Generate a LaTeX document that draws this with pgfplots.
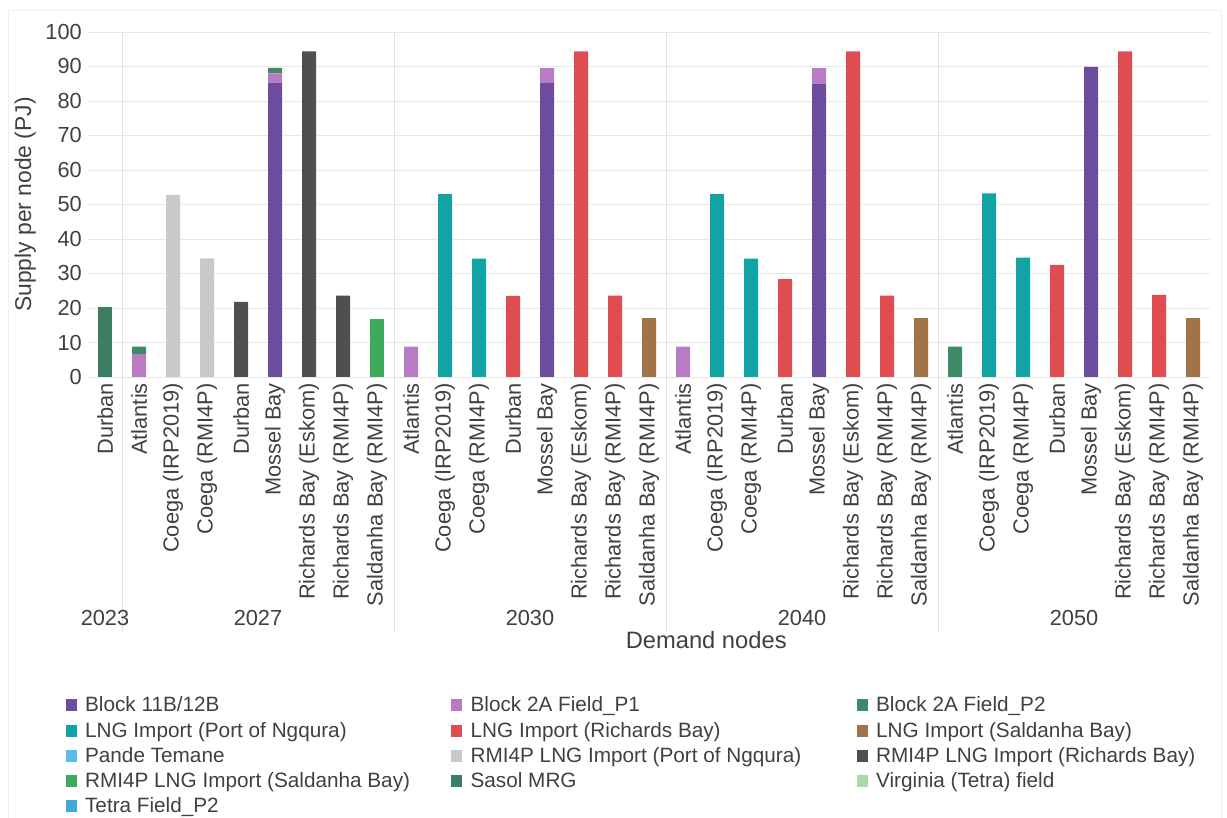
\documentclass[border=0pt]{standalone}
\usepackage{fontspec}
\setmainfont{Liberation Sans}
\usepackage{pgfplots}
\usepackage{pgfplotstable}
\pgfplotsset{compat=1.18}
\definecolor{cB}{HTML}{6B4C9E}
\definecolor{cP1}{HTML}{B77CC4}
\definecolor{cP2}{HTML}{3D8A67}
\definecolor{cLN}{HTML}{12A3A6}
\definecolor{cLR}{HTML}{E04D50}
\definecolor{cLS}{HTML}{A07448}
\definecolor{cPT}{HTML}{5BBCEB}
\definecolor{cRN}{HTML}{C9C9CD}
\definecolor{cRR}{HTML}{4F4F4F}
\definecolor{cRS}{HTML}{3FA95C}
\definecolor{cSM}{HTML}{3B7E63}
\definecolor{cVT}{HTML}{A9DBA9}
\definecolor{cTP}{HTML}{40A9D6}
\definecolor{txt}{HTML}{404040}

\pgfplotstableread{
x  B11  P1  P2  LN   LR   LS  PT  RN   RR   RS  SM   VT  TP
0  0    0   0   0    0    0   0   0    0    0   20.3 0   0
1  0    6.6 2.2 0    0    0   0   0    0    0   0    0   0
2  0    0   0   0    0    0   0   52.8 0    0   0    0   0
3  0    0   0   0    0    0   0   34.4 0    0   0    0   0
4  0    0   0   0    0    0   0   0    21.8 0   0    0   0
5  85.3 2.7 1.6 0    0    0   0   0    0    0   0    0   0
6  0    0   0   0    0    0   0   0    94.4 0   0    0   0
7  0    0   0   0    0    0   0   0    23.6 0   0    0   0
8  0    0   0   0    0    0   0   0    0    16.9 0   0   0
9  0    8.8 0   0    0    0   0   0    0    0   0    0   0
10 0    0   0   53.0 0    0   0   0    0    0   0    0   0
11 0    0   0   34.3 0    0   0   0    0    0   0    0   0
12 0    0   0   0    23.5 0   0   0    0    0   0    0   0
13 85.2 4.3 0   0    0    0   0   0    0    0   0    0   0
14 0    0   0   0    94.4 0   0   0    0    0   0    0   0
15 0    0   0   0    23.6 0   0   0    0    0   0    0   0
16 0    0   0   0    0    17.1 0  0    0    0   0    0   0
17 0    8.8 0   0    0    0   0   0    0    0   0    0   0
18 0    0   0   53.0 0    0   0   0    0    0   0    0   0
19 0    0   0   34.3 0    0   0   0    0    0   0    0   0
20 0    0   0   0    28.4 0   0   0    0    0   0    0   0
21 85.0 4.5 0   0    0    0   0   0    0    0   0    0   0
22 0    0   0   0    94.4 0   0   0    0    0   0    0   0
23 0    0   0   0    23.6 0   0   0    0    0   0    0   0
24 0    0   0   0    0    17.1 0  0    0    0   0    0   0
25 0    0   8.8 0    0    0   0   0    0    0   0    0   0
26 0    0   0   53.2 0    0   0   0    0    0   0    0   0
27 0    0   0   34.6 0    0   0   0    0    0   0    0   0
28 0    0   0   0    32.5 0   0   0    0    0   0    0   0
29 89.9 0   0   0    0    0   0   0    0    0   0    0   0
30 0    0   0   0    94.4 0   0   0    0    0   0    0   0
31 0    0   0   0    23.8 0   0   0    0    0   0    0   0
32 0    0   0   0    0    17.1 0  0    0    0   0    0   0
}\data

\pgfplotsset{sq/.style={legend image code/.code={\fill[##1] (0cm,-0.11cm) rectangle (0.22cm,0.13cm);}}}
\newcommand{\lta}[1]{\makebox[7.35cm][l]{\hspace{0.1cm}#1}}
\newcommand{\ltb}[1]{\makebox[7.75cm][l]{\hspace{0.1cm}#1}}
\newcommand{\ltc}[1]{\makebox[6.8cm][l]{\hspace{0.1cm}#1}}

\begin{document}
\begin{tikzpicture}
\useasboundingbox (0,0) rectangle (24.54cm,16.34cm);
\draw[gray!12] (0.16cm,-0.1cm) -- (0.16cm,16.14cm) -- (24.42cm,16.14cm) -- (24.42cm,-0.1cm);
\begin{axis}[
  at={(1.76cm,8.80cm)}, anchor=south west,
  scale only axis, width=22.44cm, height=6.9cm,
  ybar stacked, bar width=0.28cm,
  clip=false,
  xmin=-0.5, xmax=32.5, ymin=0, ymax=100,
  ytick={0,10,...,100},
  xtick={0,...,32},
  xticklabels={Durban, Atlantis, {Coega (IRP2019)}, {Coega (RMI4P)}, Durban, Mossel Bay, {Richards Bay (Eskom)}, {Richards Bay (RMI4P)}, {Saldanha Bay (RMI4P)},
    Atlantis, {Coega (IRP2019)}, {Coega (RMI4P)}, Durban, Mossel Bay, {Richards Bay (Eskom)}, {Richards Bay (RMI4P)}, {Saldanha Bay (RMI4P)},
    Atlantis, {Coega (IRP2019)}, {Coega (RMI4P)}, Durban, Mossel Bay, {Richards Bay (Eskom)}, {Richards Bay (RMI4P)}, {Saldanha Bay (RMI4P)},
    Atlantis, {Coega (IRP2019)}, {Coega (RMI4P)}, Durban, Mossel Bay, {Richards Bay (Eskom)}, {Richards Bay (RMI4P)}, {Saldanha Bay (RMI4P)}},
  x tick label style={rotate=90, anchor=east, font=\fontsize{12.4}{14}\selectfont, text=txt},
  y tick label style={font=\fontsize{12.4}{14}\selectfont, text=txt},
  /pgf/number format/assume math mode=true,
  major tick length=0pt,
  xtick pos=lower,
  axis line style={draw=none},
  ymajorgrids, grid style={gray!18},
  extra x ticks={0.5,8.5,16.5,24.5},
  extra x tick labels={},
  extra x tick style={xmajorgrids=true, tick align=outside, major tick length=5.1cm, tick style={gray!22}, grid style={gray!22}},
  ylabel={Supply per node (PJ)},
  ylabel style={at={(axis description cs:-0.056,0.5)}, anchor=center, font=\fontsize{13}{15}\selectfont, text=txt},
  xlabel={Demand nodes},
  xlabel style={at={(axis description cs:0.551,-0.762)}, anchor=center, font=\fontsize{13.5}{15}\selectfont, text=txt},
  legend columns=3,
  legend cell align=left,
  legend style={at={(axis description cs:-0.025,-0.906)}, anchor=north west, draw=none, fill=none,
    font=\fontsize{11.8}{13.5}\selectfont, text=txt, row sep=0.3pt,
    /tikz/every even column/.append style={column sep=0pt}},
]
\addplot[fill=cB, draw=none, sq] table[x=x, y=B11]{\data}; \addlegendentry{\lta{Block 11B/12B}}
\addplot[fill=cP1, draw=none, sq] table[x=x, y=P1]{\data}; \addlegendentry{\ltb{Block 2A Field\_P1}}
\addplot[fill=cP2, draw=none, sq] table[x=x, y=P2]{\data}; \addlegendentry{\ltc{Block 2A Field\_P2}}
\addplot[fill=cLN, draw=none, sq] table[x=x, y=LN]{\data}; \addlegendentry{\lta{LNG Import (Port of Ngqura)}}
\addplot[fill=cLR, draw=none, sq] table[x=x, y=LR]{\data}; \addlegendentry{\ltb{LNG Import (Richards Bay)}}
\addplot[fill=cLS, draw=none, sq] table[x=x, y=LS]{\data}; \addlegendentry{\ltc{LNG Import (Saldanha Bay)}}
\addplot[fill=cPT, draw=none, sq] table[x=x, y=PT]{\data}; \addlegendentry{\lta{Pande Temane}}
\addplot[fill=cRN, draw=none, sq] table[x=x, y=RN]{\data}; \addlegendentry{\ltb{RMI4P LNG Import (Port of Ngqura)}}
\addplot[fill=cRR, draw=none, sq] table[x=x, y=RR]{\data}; \addlegendentry{\ltc{RMI4P LNG Import (Richards Bay)}}
\addplot[fill=cRS, draw=none, sq] table[x=x, y=RS]{\data}; \addlegendentry{\lta{RMI4P LNG Import (Saldanha Bay)}}
\addplot[fill=cSM, draw=none, sq] table[x=x, y=SM]{\data}; \addlegendentry{\ltb{Sasol MRG}}
\addplot[fill=cVT, draw=none, sq] table[x=x, y=VT]{\data}; \addlegendentry{\ltc{Virginia (Tetra) field}}
\addplot[fill=cTP, draw=none, sq] table[x=x, y=TP]{\data}; \addlegendentry{\lta{Tetra Field\_P2}}
\node[font=\fontsize{12.4}{14}\selectfont, text=txt] at (axis cs:0,0) [yshift=-4.82cm] {2023};
\node[font=\fontsize{12.4}{14}\selectfont, text=txt] at (axis cs:4.5,0) [yshift=-4.82cm] {2027};
\node[font=\fontsize{12.4}{14}\selectfont, text=txt] at (axis cs:12.5,0) [yshift=-4.82cm] {2030};
\node[font=\fontsize{12.4}{14}\selectfont, text=txt] at (axis cs:20.5,0) [yshift=-4.82cm] {2040};
\node[font=\fontsize{12.4}{14}\selectfont, text=txt] at (axis cs:28.5,0) [yshift=-4.82cm] {2050};
\end{axis}
\end{tikzpicture}
\end{document}
